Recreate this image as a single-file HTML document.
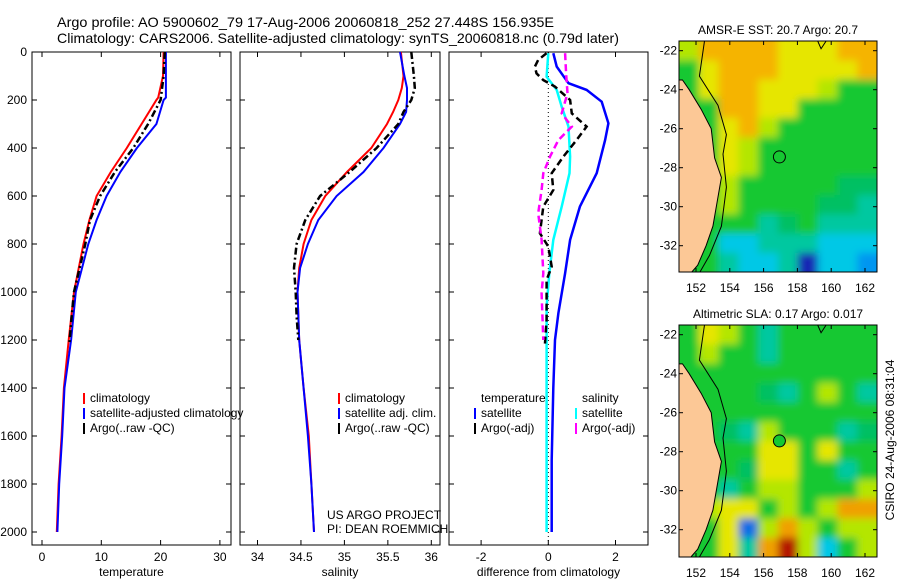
<!DOCTYPE html>
<html><head><meta charset="utf-8">
<style>
html,body{margin:0;padding:0;background:#fff;}
svg{display:block;font-family:"Liberation Sans",sans-serif;}
</style></head>
<body>
<svg id="fig" width="900" height="580" viewBox="0 0 900 580" xmlns="http://www.w3.org/2000/svg">
<defs>
<filter id="blur" x="-10%" y="-10%" width="120%" height="120%"><feGaussianBlur stdDeviation="4"/></filter>
<clipPath id="clip1"><rect x="679" y="41" width="198" height="231"/></clipPath>
<clipPath id="clip2"><rect x="679" y="325" width="198" height="232"/></clipPath>
</defs>
<text x="57" y="27" font-size="14" textLength="497" lengthAdjust="spacingAndGlyphs">Argo profile: AO 5900602_79 17-Aug-2006 20060818_252 27.448S 156.935E</text>
<text x="57" y="43" font-size="14" textLength="562" lengthAdjust="spacingAndGlyphs">Climatology: CARS2006. Satellite-adjusted climatology: synTS_20060818.nc (0.79d later)</text>
<g id="p1"></g>
<g id="p2"></g>
<g id="p3"></g>
<g id="m1"></g>
<g id="m2"></g>
<text transform="translate(894,440) rotate(-90)" text-anchor="middle" font-size="12">CSIRO 24-Aug-2006 08:31:04</text>
</svg>
<script>
// ---- data ----
const tempDepth = [0,100,190,200,300,400,500,600,700,800,1000,1200,1400,1600,1800,2000];
const tempClim  = [20.5,20.4,19.6,19.3,16.8,14.3,11.6,9.2,8.0,7.0,5.4,4.5,3.7,3.3,2.8,2.5];
const tempSat   = [20.9,20.9,20.9,20.5,19.3,16.0,13.2,10.9,9.2,7.8,5.7,4.9,3.8,3.4,2.9,2.6];
const argoDepth = [0,100,200,300,400,500,600,700,800,1000,1100,1220];
const tempArgo  = [20.7,20.5,20.0,17.9,15.4,12.3,9.8,8.1,7.3,5.4,5.0,4.6];
const salDepth  = [0,100,150,200,250,300,400,500,600,700,800,900,1000,1200,1400,1600,1800,2000];
const salClim   = [35.65,35.68,35.66,35.62,35.56,35.49,35.31,35.03,34.78,34.62,34.53,34.48,34.46,34.48,34.53,34.59,34.62,34.65];
const salSat    = [35.64,35.69,35.72,35.72,35.71,35.64,35.45,35.22,34.91,34.70,34.58,34.49,34.46,34.48,34.53,34.58,34.62,34.65];
const salArgo   = [35.77,35.80,35.81,35.77,35.68,35.62,35.37,35.06,34.72,34.55,34.45,34.42,34.44,34.45,34.47];
const salArgoDepth = [0,100,150,200,250,300,400,500,600,700,800,900,1000,1100,1200];
const dDepthT   = [5,61,130,158,207,297,367,505,644,783,922,1088,1200,1400,1700,2000];
const dTempSat  = [0.15,0.25,0.6,1.14,1.59,1.79,1.69,1.44,0.94,0.65,0.5,0.3,0.2,0.15,0.1,0.1];
const dDepthS   = [5,103,158,228,311,436,505,644,783,922,1061,1400,2000];
const dSalSat   = [0,-0.05,0.25,0.4,0.6,0.65,0.63,0.4,0.15,0.03,-0.05,-0.05,-0.05];
const dDepthTA  = [5,33,61,89,117,144,200,256,311,367,436,505,575,644,755,811,894,950,1117,1220];
const dTempArgo = [-0.05,-0.3,-0.4,-0.35,-0.15,0.2,0.65,0.7,1.14,0.84,0.45,0.1,0.15,-0.15,-0.25,0,0.1,-0.05,-0.05,-0.1];
const dDepthSA  = [5,89,172,256,311,367,436,505,575,672,783,922,1005,1200];
const dSalArgo  = [0.5,0.53,0.57,0.4,0.7,0.3,0.05,-0.15,-0.2,-0.3,-0.2,-0.15,-0.2,-0.15];
const depthTicks = [0,200,400,600,800,1000,1200,1400,1600,1800,2000];
const tempTicks = [0,10,20,30];
const salTicks = [34,34.5,35,35.5,36];
const salTickLabels = ["34","34.5","35","35.5","36"];
const diffTicks = [-2,0,2];
const lonTicks = [152,154,156,158,160,162];
const latTicks = [22,24,26,28,30,32];
const sstGrid = ["yOOOOYYYOO","GYOOOYYYYO","GYOOYYYyGG","GGOOYYGGGG","GGYOyGGGGG","GGYyGGGGGG","GGYyGGGGGG","GGyGGGGGgg","GGyGGGGggT","GGGGTgGTTT","GGCCTTTCCC","GGTCCTDCCB"];
const slaGrid = ["GYyGTGGGGG","GyGGTGGGGG","GGGGGGGGGG","GGGGgTGyGT","GGGGGGGGGG","GGgTyGGGTg","GGGGYYGYGG","GGGgYYGGTG","GGTGyyGGGy","GyYYGyGyOO","GGYByOyGyy","GGYTORyCGy"];
const coastLon = [151.2,151.6,152.3,152.9,153.1,153.5,153.3,153.0,152.6,152.1,151.7,151.2];
const coastLat = [23.5,24,25,26,27.5,28.5,29.5,31,32,33,33.4,33.4];
const isoLon = [152.5,152.2,153.3,153.8,153.6,153.8,153.5,152.8,152.2];
const isoLat = [21.5,23.3,24.8,26.3,27.3,29,31,32.5,33.4];
const argoLon = 156.935, argoLat = 27.448;

const NS="http://www.w3.org/2000/svg";
function el(parent,tag,attrs,text){const e=document.createElementNS(NS,tag);for(const k in attrs)e.setAttribute(k,attrs[k]);if(text!==undefined)e.textContent=text;parent.appendChild(e);return e;}
const yD = d => 52 + 0.24*d;

function axesBox(g,x0,x1,xt,xtl,xs,name,xlabel,showY){
  const r=el(g,'rect',{x:x0,y:52,width:x1-x0,height:493,fill:'none',stroke:'#000','stroke-width':1});
  
  
  xt.forEach((v,i)=>{const x=xs(v);
    el(g,'line',{x1:x,x2:x,y1:545,y2:540,stroke:'#000'});
    el(g,'line',{x1:x,x2:x,y1:52,y2:57,stroke:'#000'});
    const t=el(g,'text',{x:x,y:561,'font-size':12,'text-anchor':'middle'},xtl[i]);
    
    
  });
  depthTicks.forEach(d=>{const y=yD(d);
    el(g,'line',{x1:x0,x2:x0+5,y1:y,y2:y,stroke:'#000'});
    el(g,'line',{x1:x1,x2:x1-5,y1:y,y2:y,stroke:'#000'});
    if(showY){const t=el(g,'text',{x:27,y:y+4,'font-size':12,'text-anchor':'end'},String(d));
      
      }
  });
  const xl=el(g,'text',{x:(x0+x1)/2,y:576,'font-size':12,'text-anchor':'middle'},xlabel);
  
  
}
function line(g,xs,vals,depths,color,dash,w,name){
  const pts=vals.map((v,i)=>xs(v).toFixed(1)+','+yD(depths[i]).toFixed(1)).join(' ');
  const p=el(g,'polyline',{points:pts,fill:'none',stroke:color,'stroke-width':w||2,'stroke-dasharray':dash||'none'});
  
  
}
function legend(g,x,y,color,label){
  el(g,'rect',{x:x,y:y-9,width:2,height:11,fill:color});
  const t=el(g,'text',{x:x+7,y:y,'font-size':12},label);
  
  
}

// panel 1
const p1=document.getElementById('p1');
const xT=v=>42+5.93*v;
axesBox(p1,32,231,tempTicks,tempTicks.map(String),xT,'temperature','temperature',true);
line(p1,xT,tempClim,tempDepth,'#f00','',2,'temp-climatology-line');
line(p1,xT,tempSat,tempDepth,'#00f','',2,'temp-satellite-line');
line(p1,xT,tempArgo,argoDepth,'#000','7,3,2,3',2.5,'temp-argo-line');
legend(p1,83,402,'#f00','climatology');
legend(p1,83,417,'#00f','satellite-adjusted climatology');
legend(p1,83,432,'#000','Argo(..raw -QC)');

// panel 2
const p2=document.getElementById('p2');
const xS=v=>257.5+86.9*(v-34);
axesBox(p2,240,440,salTicks,salTickLabels,xS,'salinity','salinity',false);
line(p2,xS,salClim,salDepth,'#f00','',2,'sal-climatology-line');
line(p2,xS,salSat,salDepth,'#00f','',2,'sal-satellite-line');
line(p2,xS,salArgo,salArgoDepth,'#000','7,3,2,3',2.5,'sal-argo-line');
legend(p2,338,402,'#f00','climatology');
legend(p2,338,417,'#00f','satellite adj. clim.');
legend(p2,338,432,'#000','Argo(..raw -QC)');
el(p2,'text',{x:327,y:519,'font-size':12},'US ARGO PROJECT');
el(p2,'text',{x:327,y:533,'font-size':12},'PI: DEAN ROEMMICH');

// panel 3
const p3=document.getElementById('p3');
const xDf=v=>548.3+33.6*v;
axesBox(p3,449,648,diffTicks,diffTicks.map(v=>v<0?'-'+Math.abs(v):String(v)),xDf,'difference','difference from climatology',false);
el(p3,'line',{x1:xDf(0),x2:xDf(0),y1:52,y2:545,stroke:'#000','stroke-dasharray':'1,3'});
line(p3,xDf,dTempSat,dDepthT,'#00f','',2.5,'diff-temp-satellite-line');
line(p3,xDf,dSalSat,dDepthS,'#0ff','',2.5,'diff-sal-satellite-line');
line(p3,xDf,dTempArgo,dDepthTA,'#000','7,4',2.5,'diff-temp-argo-line');
line(p3,xDf,dSalArgo,dDepthSA,'#f0f','7,4',2.5,'diff-sal-argo-line');
el(p3,'text',{x:481,y:402,'font-size':12},'temperature');
el(p3,'text',{x:582,y:402,'font-size':12},'salinity');
legend(p3,474,417,'#00f','satellite');
legend(p3,474,432,'#000','Argo(-adj)');
legend(p3,575,417,'#0ff','satellite');
legend(p3,575,432,'#f0f','Argo(-adj)');

// maps
const palette={O:'#f5b400',Y:'#e6e600',y:'#b4e600',G:'#14c832',g:'#00c064',T:'#00c8a0',C:'#00c8e6',B:'#0096f0',D:'#1428b4',R:'#b41400'};
const slaPal=Object.assign({},palette,{O:'#f0a000',B:'#0a6ee6',C:'#00c8e6'});
function drawMap(id,top,bottom,grid,pal,title,filledCircle){
  const g=document.getElementById(id);
  const L=679,R=877;
  const lat22=top+9.7, dlat=19.5;
  const xL=lon=>696+(lon-152)*16.9;
  const yL=lat=>lat22+(lat-22)*dlat;
  const nR=grid.length,nC=grid[0].length,cw=(R-L)/nC,ch=(bottom-top)/nR;
  const cg=el(g,'g',{'clip-path':'url(#'+(id==='m1'?'clip1':'clip2')+')'});
  const bg=el(cg,'g',{filter:'url(#blur)'});
  grid.forEach((row,j)=>{[...row].forEach((c,i)=>{
    const x0=L+i*cw - (i===0?15:0), y0=top+j*ch - (j===0?15:0);
    const w=cw+0.6+(i===0?15:0)+(i===nC-1?15:0), h=ch+0.6+(j===0?15:0)+(j===nR-1?15:0);
    const r=el(bg,'rect',{x:x0.toFixed(1),y:y0.toFixed(1),width:w.toFixed(1),height:h.toFixed(1),fill:pal[c]});
    
    
  });});
  const cp=coastLon.map((lo,i)=>xL(lo).toFixed(1)+','+yL(coastLat[i]).toFixed(1));
  const land=el(cg,'polygon',{points:cp.join(' ')+' '+L+','+bottom+' '+L+','+yL(23.5).toFixed(1),fill:'#fcc896',stroke:'#000','stroke-width':1});
  
  
  const ip=isoLon.map((lo,i)=>xL(lo).toFixed(1)+','+yL(isoLat[i]).toFixed(1)).join(' ');
  el(cg,'polyline',{points:ip,fill:'none',stroke:'#000','stroke-width':1});
  el(cg,'polyline',{points:`${xL(159.2)},${top} ${xL(159.4)},${yL(21.9)} ${xL(159.7)},${top}`,fill:'none',stroke:'#000'});
  const c=el(g,'circle',{cx:xL(argoLon),cy:yL(argoLat),r:6,fill:filledCircle?'#14c832':'none',stroke:'#000','stroke-width':1});
  
  
  el(g,'rect',{x:L,y:top,width:R-L,height:bottom-top,fill:'none',stroke:'#000'});
  lonTicks.forEach(v=>{const x=xL(v);
    el(g,'line',{x1:x,x2:x,y1:bottom,y2:bottom-4,stroke:'#000'});
    el(g,'line',{x1:x,x2:x,y1:top,y2:top+4,stroke:'#000'});
    const t=el(g,'text',{x:x,y:bottom+20,'font-size':12,'text-anchor':'middle'},String(v));
    
    
  });
  latTicks.forEach(v=>{const y=yL(v);
    el(g,'line',{x1:L,x2:L+4,y1:y,y2:y,stroke:'#000'});
    el(g,'line',{x1:R,x2:R-4,y1:y,y2:y,stroke:'#000'});
    const t=el(g,'text',{x:677,y:y+4,'font-size':12,'text-anchor':'end'},'-'+v);
    
    
  });
  const tt=el(g,'text',{x:(L+R)/2,y:top-7,'font-size':12,'text-anchor':'middle'},title);
  
  
}
drawMap('m1',41,272,sstGrid,palette,'AMSR-E SST: 20.7 Argo: 20.7',false);
drawMap('m2',325,557,slaGrid,slaPal,'Altimetric SLA: 0.17 Argo: 0.017',true);
</script>
</body></html>
